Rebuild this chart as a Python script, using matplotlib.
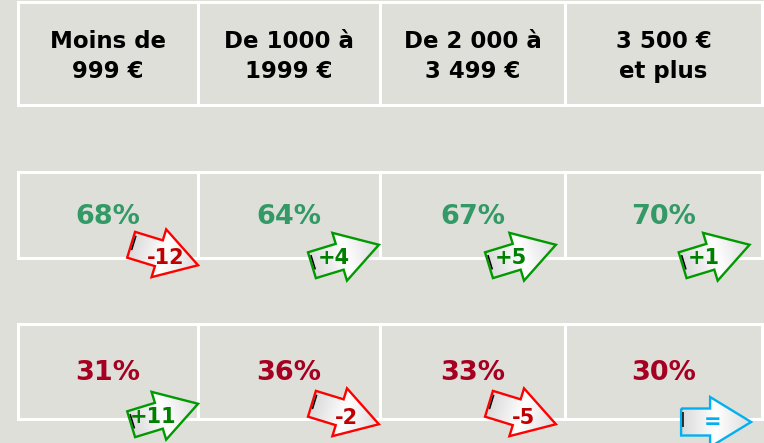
import numpy as np
import matplotlib
matplotlib.use("Agg")
import matplotlib.pyplot as plt
from matplotlib.patches import Polygon, Rectangle
from matplotlib.colors import LinearSegmentedColormap

# ---- data ----
categories = ["Moins de\n999 €", "De 1000 à\n1999 €", "De 2 000 à\n3 499 €", "3 500 €\net plus"]
row_a_values = [68, 64, 67, 70]
row_a_changes = [-12, 4, 5, 1]
row_b_values = [31, 36, 33, 30]
row_b_changes = [11, -2, -5, 0]

# ---- layout / style ----
W, H = 764, 443
BG = "#DFDFD9"
col_edges = [17.5, 198, 380, 565, 762]
header_span = (1.5, 105)
row_a_span = (172, 258)
row_b_span = (324, 419)
arrow_frac = [0.815, 0.81, 0.77, 0.767]
GREEN_TXT = "#339966"
CRIMSON_TXT = "#A50021"

fig = plt.figure(figsize=(W / 100, H / 100), dpi=100, facecolor=BG)
ax = fig.add_axes([0, 0, 1, 1])
ax.set_xlim(0, W)
ax.set_ylim(H, 0)
ax.axis("off")
ax.set_facecolor(BG)

FONT = "DejaVu Sans"


def draw_row(span):
    y0, y1 = span
    for i in range(4):
        x0, x1 = col_edges[i], col_edges[i + 1]
        ax.add_patch(Rectangle((x0, y0), x1 - x0, y1 - y0, facecolor=BG,
                               edgecolor="white", lw=2.2, zorder=1))


draw_row(header_span)
draw_row(row_a_span)
draw_row(row_b_span)

# header texts
for i, lab in enumerate(categories):
    xc = (col_edges[i] + col_edges[i + 1]) / 2
    l1, l2 = lab.split("\n")
    ax.text(xc, 41, l1, ha="center", va="center", fontsize=16.5,
            fontweight="bold", family=FONT, color="black", zorder=3)
    ax.text(xc, 71, l2, ha="center", va="center", fontsize=16.5,
            fontweight="bold", family=FONT, color="black", zorder=3)

grad_cmap = LinearSegmentedColormap.from_list(
    "g", [(0, "#DADADA"), (0.5, "#FFFFFF"), (1, "#DCDCDC")])


def arrow(cx, cy, change):
    if change > 0:
        ang, edge, tc, lab = -17, "#009900", "#008000", f"+{change}"
        off = np.array([-12, 3])
    elif change < 0:
        ang, edge, tc, lab = 17, "#FF0000", "#C00000", f"{change}"
        off = np.array([1, 3.5])
    else:
        ang, edge, tc, lab = 0, "#00B0F0", "#00B0F0", "="
        off = np.array([-4, 0])
    L = 70
    sh = 13.5
    hh = 25
    hl = 41
    pts = np.array([[-L / 2, -sh], [L / 2 - hl, -sh], [L / 2 - hl, -hh],
                    [L / 2, 0], [L / 2 - hl, hh], [L / 2 - hl, sh], [-L / 2, sh]])
    t = np.deg2rad(ang)
    R = np.array([[np.cos(t), -np.sin(t)], [np.sin(t), np.cos(t)]])
    P = pts @ R.T + [cx, cy]
    poly = Polygon(P, closed=True, facecolor="none", edgecolor=edge, lw=1.7,
                   zorder=6, joinstyle="miter")
    # gradient fill along the arrow axis
    xmin, xmax = P[:, 0].min() - 2, P[:, 0].max() + 2
    ymin, ymax = P[:, 1].min() - 2, P[:, 1].max() + 2
    gx, gy = np.meshgrid(np.linspace(xmin, xmax, 90), np.linspace(ymin, ymax, 90))
    proj = (gx - cx) * np.cos(t) + (gy - cy) * np.sin(t)
    tt = np.clip((proj + L / 2) / L, 0, 1)
    im = ax.imshow(tt, cmap=grad_cmap, vmin=0, vmax=1,
                   extent=[xmin, xmax, ymax, ymin], origin="upper",
                   zorder=5, interpolation="bilinear", aspect="auto")
    clip = Polygon(P, closed=True, transform=ax.transData, facecolor="none",
                   edgecolor="none")
    ax.add_patch(clip)
    im.set_clip_path(clip)
    ax.add_patch(poly)
    # thin dark sliver at the tail
    s = np.array([[-L / 2 + 2.0, -10], [-L / 2 + 2.0, 5]]) @ R.T + [cx, cy]
    ax.plot(s[:, 0], s[:, 1], color="black", lw=1.1, zorder=7,
            solid_capstyle="butt")
    ax.text(cx + off[0], cy + off[1], lab, ha="center", va="center",
            fontsize=15, fontweight="bold", family=FONT, color=tc, zorder=8)


def draw_values(span, values, changes, color, arrow_dy):
    y0, y1 = span
    yc = (y0 + y1) / 2 + 2
    for i, (v, c) in enumerate(zip(values, changes)):
        x0, x1 = col_edges[i], col_edges[i + 1]
        ax.text((x0 + x1) / 2, yc, f"{v}%", ha="center", va="center",
                fontsize=19.5, fontweight="bold", family=FONT, color=color,
                zorder=3)
        ax_c = x0 + arrow_frac[i] * (x1 - x0)
        arrow(ax_c, y1 + arrow_dy + (8 if c == 0 else 0), c)


draw_values(row_a_span, row_a_values, row_a_changes, GREEN_TXT, -3)
draw_values(row_b_span, row_b_values, row_b_changes, CRIMSON_TXT, -5)

fig.savefig("out.png", dpi=100, facecolor=BG)
